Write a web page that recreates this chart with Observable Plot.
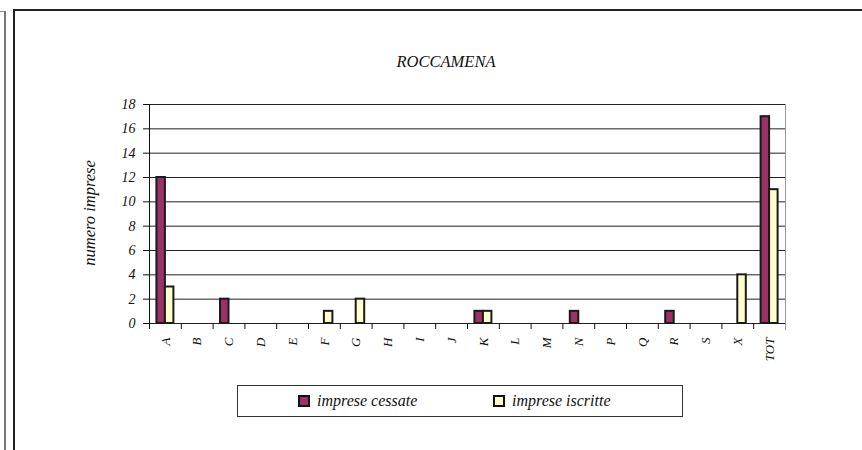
<!DOCTYPE html>
<html><head><meta charset="utf-8">
<script src="https://cdn.jsdelivr.net/npm/d3@7"></script>
<script src="https://cdn.jsdelivr.net/npm/@observablehq/plot@0.6"></script>
<style>
body{margin:0;background:#fff;}
#wrap{position:relative;width:862px;height:450px;overflow:hidden;font-family:"Liberation Serif","Times New Roman","DejaVu Serif",serif;font-style:italic;color:#111;}
.ln{position:absolute;}
#title{position:absolute;left:346px;width:200px;top:52px;text-align:center;font-size:16.5px;line-height:20px;}
#ylab{position:absolute;left:0;top:0;width:160px;height:20px;line-height:20px;text-align:center;font-size:16.5px;transform-origin:center;}
#legend{position:absolute;left:237px;top:385px;width:446px;height:32px;border:1px solid #333;box-sizing:border-box;}
.item{position:absolute;top:0;height:31px;line-height:30px;font-size:16px;white-space:nowrap;}
.sw{display:inline-block;width:8px;height:8px;border:2px solid #111;vertical-align:-1px;margin-right:7px;}
#chart{position:absolute;left:0;top:0;}
</style></head><body>
<div id="wrap">
  <div class="ln" style="left:0;top:11px;width:5px;height:1px;background:#888"></div>
  <div class="ln" style="left:4px;top:11px;width:1.5px;height:440px;background:#777"></div>
  <div class="ln" style="left:13px;top:9px;width:1.5px;height:441px;background:#222"></div>
  <div class="ln" style="left:13px;top:9px;width:849px;height:1.5px;background:#222"></div>
  <div id="chart"></div>
  <div id="title"></div>
  <div id="ylab"></div>
  <div id="legend"></div>
</div>
<script>
const chartTitle = "ROCCAMENA";
const yLabel = "numero imprese";
const categories = ["A","B","C","D","E","F","G","H","I","J","K","L","M","N","P","Q","R","S","X","TOT"];
const seriesNames = ["imprese cessate","imprese iscritte"];
const cessate  = [12,0,2,0,0,0,0,0,0,0,1,0,0,1,0,0,1,0,0,17];
const iscritte = [3,0,0,0,0,1,2,0,0,0,1,0,0,0,0,0,0,0,4,11];
const yTicks = [0,2,4,6,8,10,12,14,16,18];
const seriesColors = ["#993366","#FFFFCC"];

const cessData = categories.map((c, i) => ({cat: c, value: cessate[i]})).filter(d => d.value > 0);
const iscrData = categories.map((c, i) => ({cat: c, value: iscritte[i]})).filter(d => d.value > 0);

const W = 862, H = 450, mL = 149, mR = 77, mT = 104, mB = 127;
const step = (W - mL - mR) / categories.length;
const barW = 8.5;
const font = "'Liberation Serif','Times New Roman','DejaVu Serif',serif";

const plot = Plot.plot({
  width: W, height: H,
  marginLeft: mL, marginRight: mR, marginTop: mT, marginBottom: mB,
  style: {fontFamily: font, fontStyle: "italic", background: "transparent", color: "#111"},
  x: {domain: categories, padding: 0, round: false, label: null},
  y: {domain: [0, 18], label: null},
  marks: [
    Plot.ruleY(yTicks, {stroke: "#222", strokeWidth: 1}),
    Plot.frame({anchor: "left", stroke: "#111"}),
    Plot.frame({anchor: "right", stroke: "#999", insetBottom: -6}),
    Plot.axisY({ticks: yTicks, tickSize: 6, tickPadding: 8, fontSize: 14, label: null, stroke: "#111"}),
    Plot.axisX({tickSize: 6, text: null, dx: -step / 2, label: null, stroke: "#111"}),
    Plot.axisX({tickSize: 0, tickPadding: 14, tickRotate: -90, fontSize: 13, label: null}),
    Plot.barY(cessData, {x: "cat", y: "value", fill: seriesColors[0], stroke: "#1a1a1a", strokeWidth: 2,
      insetLeft: step / 2 - barW, insetRight: step / 2}),
    Plot.barY(iscrData, {x: "cat", y: "value", fill: seriesColors[1], stroke: "#1a1a1a", strokeWidth: 2,
      insetLeft: step / 2, insetRight: step / 2 - barW})
  ]
});
document.getElementById("chart").appendChild(plot);

document.getElementById("title").textContent = chartTitle;
const yl = document.getElementById("ylab");
yl.textContent = yLabel;
yl.style.transform = "translate(" + (90 - 80) + "px," + (213 - 10) + "px) rotate(-90deg)";

const legend = document.getElementById("legend");
const itemLeft = [60, 255];
seriesNames.forEach((s, i) => {
  const it = document.createElement("div");
  it.className = "item";
  it.style.left = itemLeft[i] + "px";
  const sw = document.createElement("span");
  sw.className = "sw";
  sw.style.background = seriesColors[i];
  it.appendChild(sw);
  it.appendChild(document.createTextNode(s));
  legend.appendChild(it);
});
</script>
</body></html>
